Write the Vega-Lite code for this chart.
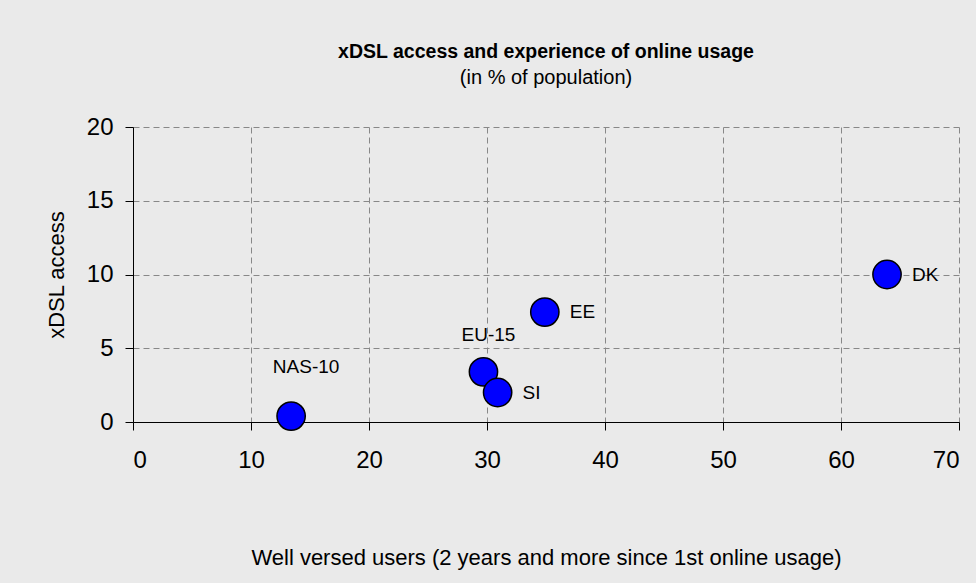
{
  "$schema": "https://vega.github.io/schema/vega-lite/v6.json",
  "autosize": {"type": "none"},
  "width": 826,
  "height": 295,
  "padding": {"left": 133, "top": 127, "right": 17, "bottom": 161},
  "background": "#eaeaea",
  "config": {
    "font": "Liberation Sans",
    "view": {"stroke": null},
    "axis": {
      "domainColor": "#000",
      "tickColor": "#000",
      "labelColor": "#000",
      "titleColor": "#000",
      "gridColor": "#888",
      "gridDash": [6, 4],
      "gridWidth": 1,
      "labelFont": "Liberation Sans",
      "titleFont": "Liberation Sans",
      "labelFontSize": 24,
      "titleFontSize": 22,
      "titleFontWeight": "normal",
      "tickSize": 8
    }
  },
  "title": {
    "text": "xDSL access and experience of online usage",
    "subtitle": "(in % of population)",
    "font": "Liberation Sans",
    "fontSize": 19.5,
    "fontWeight": "bold",
    "subtitleFont": "Liberation Sans",
    "subtitleFontSize": 20,
    "subtitleColor": "#000",
    "color": "#000",
    "anchor": "middle",
    "offset": 26,
    "subtitlePadding": 6
  },
  "data": {
    "values": [
      {"country": "NAS-10", "users": 13.4, "xdsl": 0.4},
      {"country": "EU-15", "users": 29.7, "xdsl": 3.4},
      {"country": "SI", "users": 30.9, "xdsl": 2.0},
      {"country": "EE", "users": 34.9, "xdsl": 7.45},
      {"country": "DK", "users": 63.9, "xdsl": 10.0}
    ]
  },
  "encoding": {
    "x": {
      "field": "users",
      "type": "quantitative",
      "scale": {"domain": [0, 70], "nice": false},
      "axis": {
        "values": [0, 10, 20, 30, 40, 50, 60, 70],
        "title": "Well versed users (2 years and more since 1st online usage)",
        "titlePadding": 75,
        "labelPadding": 18
      }
    },
    "y": {
      "field": "xdsl",
      "type": "quantitative",
      "scale": {"domain": [0, 20], "nice": false},
      "axis": {
        "values": [0, 5, 10, 15, 20],
        "title": "xDSL access",
        "titlePadding": 18,
        "labelPadding": 12
      }
    }
  },
  "layer": [
    {
      "mark": {"type": "point", "shape": "circle", "filled": true, "size": 800, "color": "#0000ff", "stroke": "#000", "strokeWidth": 1.5, "opacity": 1}
    },
    {
      "transform": [{"filter": "indexof(['SI','EE','DK'], datum.country) >= 0"}],
      "mark": {"type": "text", "align": "left", "baseline": "middle", "dx": 25, "fontSize": 19, "color": "#000"},
      "encoding": {"text": {"field": "country"}}
    },
    {
      "transform": [{"filter": "datum.country == 'NAS-10'"}],
      "mark": {"type": "text", "align": "center", "baseline": "middle", "dx": 15, "dy": -49, "fontSize": 19, "color": "#000"},
      "encoding": {"text": {"field": "country"}}
    },
    {
      "transform": [{"filter": "datum.country == 'EU-15'"}],
      "mark": {"type": "text", "align": "center", "baseline": "middle", "dx": 5, "dy": -37, "fontSize": 19, "color": "#000"},
      "encoding": {"text": {"field": "country"}}
    }
  ]
}
